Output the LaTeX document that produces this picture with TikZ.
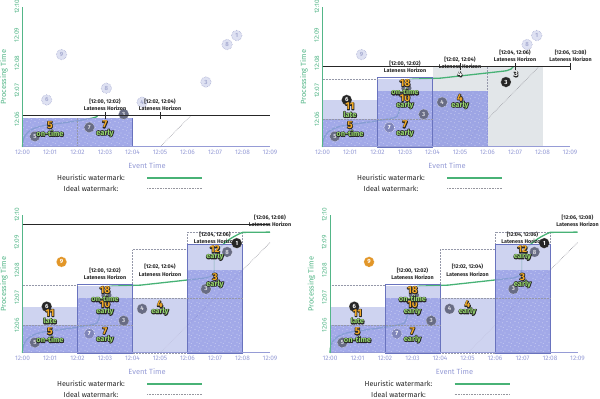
\documentclass[tikz,border=0pt]{standalone}
\usepackage{fontspec}
\setmainfont{Fira Sans}
\usetikzlibrary{positioning,patterns}

\definecolor{lav}{RGB}{150,156,214}
\definecolor{axgreen}{RGB}{84,182,136}
\definecolor{wmgreen}{RGB}{72,178,118}
\definecolor{paneblue}{RGB}{146,154,228}
\definecolor{panelight}{RGB}{198,203,237}
\definecolor{paneedge}{RGB}{105,115,190}
\definecolor{lategray}{RGB}{226,230,233}
\definecolor{ink}{RGB}{38,38,38}
\definecolor{slate}{RGB}{104,108,132}
\definecolor{faint}{RGB}{222,225,242}
\definecolor{faintedge}{RGB}{168,173,210}
\definecolor{gold}{RGB}{242,170,40}
\definecolor{firegreen}{RGB}{150,214,110}
\definecolor{dropped}{RGB}{226,150,40}
\definecolor{idealgray}{RGB}{150,150,158}

% outlined text: a dark stroked copy under the coloured one
\newcommand\ol[1]{\rlap{\special{pdf:literal direct 0.149 0.149 0.149 RG 1.4 w 1 j 1 Tr}#1\special{pdf:literal direct 0 Tr}}#1}

\pgfdeclarepatternformonly{speckle}{\pgfpoint{-1pt}{-1pt}}{\pgfpoint{9pt}{9pt}}{\pgfpoint{8pt}{8pt}}{%
  \pgfpathcircle{\pgfpoint{1pt}{2pt}}{0.35pt}
  \pgfpathcircle{\pgfpoint{5pt}{0.8pt}}{0.35pt}
  \pgfpathcircle{\pgfpoint{3pt}{5.5pt}}{0.35pt}
  \pgfpathcircle{\pgfpoint{6.6pt}{4.2pt}}{0.35pt}
  \pgfpathcircle{\pgfpoint{7.2pt}{7.4pt}}{0.35pt}
  \pgfusepath{fill}}

\tikzset{
  xtick/.style={font=\fontsize{6.5}{7}\selectfont, text=lav, anchor=north, inner sep=1pt},
  ytick/.style={font=\fontsize{6.5}{7}\selectfont, text=axgreen, rotate=90, anchor=south, inner sep=1pt},
  axlabel/.style={font=\fontsize{7.5}{8}\selectfont, inner sep=0pt},
  legendtext/.style={font=\fontsize{7.2}{8}\selectfont, text=ink, inner sep=0pt},
  xaxis/.style={draw=lav, line width=1pt},
  yaxis/.style={draw=axgreen, line width=1pt},
  heuristic/.style={draw=wmgreen, line width=1.3pt},
  ideal/.style={draw=idealgray, densely dotted, line width=0.6pt},
  pane/.style={fill=paneblue, fill opacity=0.85, postaction={pattern=speckle, pattern color=white}},
  panelite/.style={fill=panelight, fill opacity=0.85},
  paneline/.style={draw=paneedge, line width=0.5pt},
  dotline/.style={draw=slate!70, densely dotted, line width=0.5pt},
  horizon/.style={draw=ink, line width=1.4pt},
  hztick/.style={draw=ink, line width=1pt},
  hzlabel/.style={font=\fontsize{5.4}{7.2}\selectfont\bfseries, text=ink, align=center, inner sep=0pt},
  numlabel/.style={font=\fontsize{10}{10}\selectfont\bfseries, text=gold, inner sep=0pt},
  firelabel/.style={font=\fontsize{7.5}{7.5}\selectfont\bfseries, text=firegreen, inner sep=0pt},
  crossmark/.style={font=\fontsize{7.5}{7.5}\selectfont\bfseries, text=white, inner sep=0pt},
  pt/.style={circle, inner sep=0pt, minimum size=10.5pt, font=\fontsize{6}{6}\selectfont\bfseries},
  ptold/.style={pt, fill=slate, draw=white, densely dotted, line width=0.4pt, text=white!75!slate},
  ptghost/.style={pt, fill=slate!45!paneblue, draw=white, densely dotted, line width=0.5pt, text=white},
  ptnew/.style={pt, fill=ink, draw=white, densely dotted, line width=0.4pt, text=white},
  ptfut/.style={pt, fill=faint, draw=faintedge, densely dotted, line width=0.6pt, text=faintedge},
  ptdrop/.style={pt, fill=dropped, draw=white, densely dotted, line width=0.4pt, text=white}
}

% event / processing positions of the ten inputs
\newcommand\datapoints{%
  \coordinate (pA) at (0.45,0.38);
  \coordinate (pB) at (0.88,1.68);
  \coordinate (pC) at (1.42,3.30);
  \coordinate (pD) at (2.43,0.70);
  \coordinate (pE) at (3.68,1.17);
  \coordinate (pF) at (3.05,2.10);
  \coordinate (pG) at (4.35,1.60);
  \coordinate (pH) at (6.67,2.32);
  \coordinate (pI) at (7.44,3.66);
  \coordinate (pJ) at (7.79,3.98);
}

% watermark curves, cut at the current processing time
\newcommand\watermarks[1]{%
  \begin{scope}
    \clip (-0.2,-0.2) rectangle (9.2,#1);
    \draw[ideal] (5,0) -- (9,4);
    \draw[heuristic] (0,0) .. controls (0,0.45) and (0.2,0.7) .. (1,0.8)
      .. controls (1.8,0.9) and (2.5,1.0) .. (2.7,1.08)
      .. controls (2.85,1.2) and (2.9,2.3) .. (3.18,2.42)
      -- (4.3,2.46) -- (6.5,2.7)
      .. controls (6.85,2.73) and (6.95,2.8) .. (6.97,3.0) -- (6.97,3.45)
      .. controls (7.1,3.9) and (7.6,4.2) .. (8.0,4.37) -- (9,4.38);
  \end{scope}}

% axes and ticks of one panel
\newcommand\panelaxes{%
  \draw[xaxis] (0,0) -- (9,0);
  \draw[yaxis] (0,0) -- (0,5);
  \foreach \m in {0,...,9} \node[xtick] (xt\m) at (\m,-0.08) {12:0\m};
  \foreach \m in {6,...,9} \node[ytick] (yt\m) at (-0.08,\m-5) {12:0\m};
  \node[ytick] (yt10) at (-0.08,5) {12:10};
  \node[axlabel, text=lav] (evt) at (4.53,-0.66) {Event Time};
  \node[axlabel, text=axgreen, rotate=90] (prt) at (-0.67,2.5) {Processing Time};
}

% last frames: #1 left edge, #2 = 1 with the processing-time line
\newcommand\lastframe[2]{%
  \begin{scope}[shift={(#1pt,46pt)}, x=27.5pt, y=27.6pt]
    \datapoints
    \draw[dotline] (4,0) rectangle (6,3.75);
    \draw[dotline] (6,0) rectangle (8,4.38);
    \watermarks{4.66}
    \fill[pane] (0,0) rectangle (2,1.0);
    \fill[panelite] (0,1.0) rectangle (2,1.68);
    \fill[pane] (2,0) rectangle (4,2.0);
    \fill[panelite] (2,2.0) rectangle (4,2.44);
    \fill[panelite] (4,0) rectangle (6,2.0);
    \fill[pane] (6,0) rectangle (8,3.0);
    \fill[panelite] (6,3.0) rectangle (8,3.95);
    \draw[paneline] (2,0) rectangle (4,2.49);
    \draw[paneline] (6,0) rectangle (8,3.95);
    \draw[dotline] (0,1.0) -- (4,1.0);
    \draw[dotline] (0,2.44) -- (2,2.44);
    \draw[dotline] (4,2.0) -- (8,2.0);
    \panelaxes
    \node[ptold] (a) at (pA) {5};
    \node[ptghost] (d) at (pD) {7};
    \node[ptold] (e) at (pE) {3};
    \node[ptnew] (b) at (pB) {6};
    \node[ptold] (f) at (pF) {8};
    \node[ptold] (g) at (pG) {4};
    \node[ptold] (h) at (pH) {3};
    \node[ptold] (i) at (pI) {8};
    \node[ptnew] (j) at (pJ) {1};
    \node[ptdrop] (c) at (pC) {9};
    \ifnum#2=1
      \coordinate (hzL) at (0,4.66);
      \coordinate (hzR) at (9,4.66);
      \draw[horizon] (hzL) -- (hzR);
    \fi
    \node[hzlabel] (lh1) at (3,2.86) {[12:00, 12:02)\\Lateness Horizon};
    \node[hzlabel] (lh2) at (5,3.0) {[12:02, 12:04)\\Lateness Horizon};
    \node[hzlabel] (lh3) at (7,4.17) {[12:04, 12:06)\\Lateness Horizon};
    \node[hzlabel] (lh4) at (9,4.78) {[12:06, 12:08)\\Lateness Horizon};
    \node[firelabel] (w1) at (1,0.49) {\ol{on-time}};
    \node[numlabel] (n1) at (1,0.78) {\ol{5}};
    \node[firelabel] (w2) at (1,1.16) {\ol{late}};
    \node[numlabel] (n2) at (1,1.45) {\ol{11}};
    \node[firelabel] (w3) at (3,0.50) {\ol{early}};
    \node[numlabel] (n3) at (3,0.80) {\ol{7}};
    \node[firelabel] (w4) at (3,1.50) {\ol{early}};
    \node[numlabel] (n4) at (3,1.76) {\ol{10}};
    \node[firelabel] (w5) at (3,1.97) {\ol{on-time}};
    \node[numlabel] (n5) at (3,2.28) {\ol{18}};
    \node[firelabel] (w6) at (5,1.50) {\ol{early}};
    \node[numlabel] (n6) at (5,1.76) {\ol{4}};
    \node[firelabel] (w7) at (7,2.50) {\ol{early}};
    \node[numlabel] (n7) at (7,2.76) {\ol{3}};
    \node[firelabel] (w8) at (7,3.49) {\ol{early}};
    \node[numlabel] (n8) at (7,3.75) {\ol{12}};
  \end{scope}}

\begin{document}
\begin{tikzpicture}
  \useasboundingbox (0pt,0pt) rectangle (600pt,399pt);

  %% top left: processing time 12:06
  \begin{scope}[shift={(22.5pt,252pt)}, x=27.5pt, y=28pt]
    \datapoints
    \watermarks{1.12}
    \fill[pane] (0,0) rectangle (4,1.02);
    \draw[dotline] (2,0) -- (2,1.02);
    \draw[paneline] (4,0) -- (4,1.02);
    \panelaxes
    \node[ptold] (a) at (pA) {5};
    \node[ptold] (d) at (pD) {7};
    \node[ptold] (e) at (pE) {3};
    \node[ptfut] (b) at (pB) {6};
    \node[ptfut] (c) at (pC) {9};
    \node[ptfut] (f) at (pF) {8};
    \node[ptfut] (g) at (pG) {4};
    \node[ptfut] (h) at (pH) {3};
    \node[ptfut] (i) at (pI) {8};
    \node[ptfut] (j) at (pJ) {1};
    \coordinate (hzL) at (0,1.12);
    \coordinate (hzR) at (9,1.12);
    \draw[horizon] (hzL) -- (hzR);
    \foreach \t in {3,5} \draw[hztick] (\t,1.0) -- (\t,1.24);
    \node[hzlabel] (lh1) at (3,1.52) {[12:00, 12:02)\\Lateness Horizon};
    \node[hzlabel] (lh2) at (5,1.52) {[12:02, 12:04)\\Lateness Horizon};
    \node[firelabel] (w1) at (1,0.49) {\ol{on-time}};
    \node[numlabel] (n1) at (1,0.78) {\ol{5}};
    \node[firelabel] (w2) at (3,0.50) {\ol{early}};
    \node[numlabel] (n2) at (3,0.80) {\ol{7}};
  \end{scope}

  %% top right: processing time 12:08
  \begin{scope}[shift={(322.5pt,252pt)}, x=27.5pt, y=28pt]
    \datapoints
    \fill[lategray] (4,0) rectangle (8,2.87);
    \draw[dotline] (6,0) -- (6,2.87);
    \watermarks{2.87}
    \fill[pane] (0,0) rectangle (2,1.0);
    \fill[panelite] (0,1.0) rectangle (2,1.68);
    \fill[pane] (2,0) rectangle (4,2.0);
    \fill[panelite] (2,2.0) rectangle (4,2.42);
    \fill[pane] (4,0) rectangle (6,2.0);
    \draw[paneline] (2,0) rectangle (4,2.5);
    \draw[dotline] (0,1.0) -- (4,1.0);
    \draw[dotline] (0,2.42) -- (2,2.42);
    \panelaxes
    \node[ptold] (a) at (pA) {5};
    \node[ptghost] (d) at (pD) {7};
    \node[ptold] (e) at (pE) {3};
    \node[ptnew] (b) at (pB) {6};
    \node[ptold] (f) at (pF) {8};
    \node[ptold] (g) at (pG) {4};
    \node[ptnew] (h) at (pH) {3};
    \node[ptfut] (c) at (pC) {9};
    \node[ptfut] (i) at (pI) {8};
    \node[ptfut] (j) at (pJ) {1};
    \coordinate (hzL) at (0,2.87);
    \coordinate (hzR) at (9,2.87);
    \draw[horizon] (hzL) -- (hzR);
    \foreach \t in {5,7,9} \draw[hztick] (\t,2.75) -- (\t,2.99);
    \node[crossmark] (x4) at (5,2.6) {\ol{4}};
    \node[crossmark] (x3) at (7.04,2.6) {\ol{3}};
    \node[hzlabel] (lh1) at (3,2.86) {[12:00, 12:02)\\Lateness Horizon};
    \node[hzlabel] (lh2) at (5,3.0) {[12:02, 12:04)\\Lateness Horizon};
    \node[hzlabel] (lh3) at (7,3.25) {[12:04, 12:06)\\Lateness Horizon};
    \node[hzlabel] (lh4) at (9.02,3.25) {[12:06, 12:08)\\Lateness Horizon};
    \node[firelabel] (w1) at (1,0.49) {\ol{on-time}};
    \node[numlabel] (n1) at (1,0.78) {\ol{5}};
    \node[firelabel] (w2) at (1,1.16) {\ol{late}};
    \node[numlabel] (n2) at (1,1.45) {\ol{11}};
    \node[firelabel] (w3) at (3,0.50) {\ol{early}};
    \node[numlabel] (n3) at (3,0.80) {\ol{7}};
    \node[firelabel] (w4) at (3,1.50) {\ol{early}};
    \node[numlabel] (n4) at (3,1.76) {\ol{10}};
    \node[firelabel] (w5) at (3,1.97) {\ol{on-time}};
    \node[numlabel] (n5) at (3,2.28) {\ol{18}};
    \node[firelabel] (w6) at (5,1.50) {\ol{early}};
    \node[numlabel] (n6) at (5,1.76) {\ol{4}};
  \end{scope}

  %% bottom row: processing time 12:09:40 and the frame after it
  \lastframe{22.5}{1}
  \lastframe{330}{0}

  %% legends under the four frames
  \foreach \lx/\ly in {22.5/252, 322.5/252, 22.5/46, 330/46} {
    \begin{scope}[shift={(\lx pt,\ly pt)}, x=27.5pt, y=28pt]
      \node[legendtext] (hw) at (2.49,-1.11) {Heuristic watermark:};
      \node[legendtext] (iw) at (2.49,-1.48) {Ideal watermark:};
      \coordinate (hw1) at (4.53,-1.11);
      \coordinate (hw2) at (6.53,-1.11);
      \coordinate (iw1) at (4.53,-1.48);
      \coordinate (iw2) at (6.53,-1.48);
      \draw[heuristic] (hw1) -- (hw2);
      \draw[ideal] (iw1) -- (iw2);
    \end{scope}}
\end{tikzpicture}
\end{document}
